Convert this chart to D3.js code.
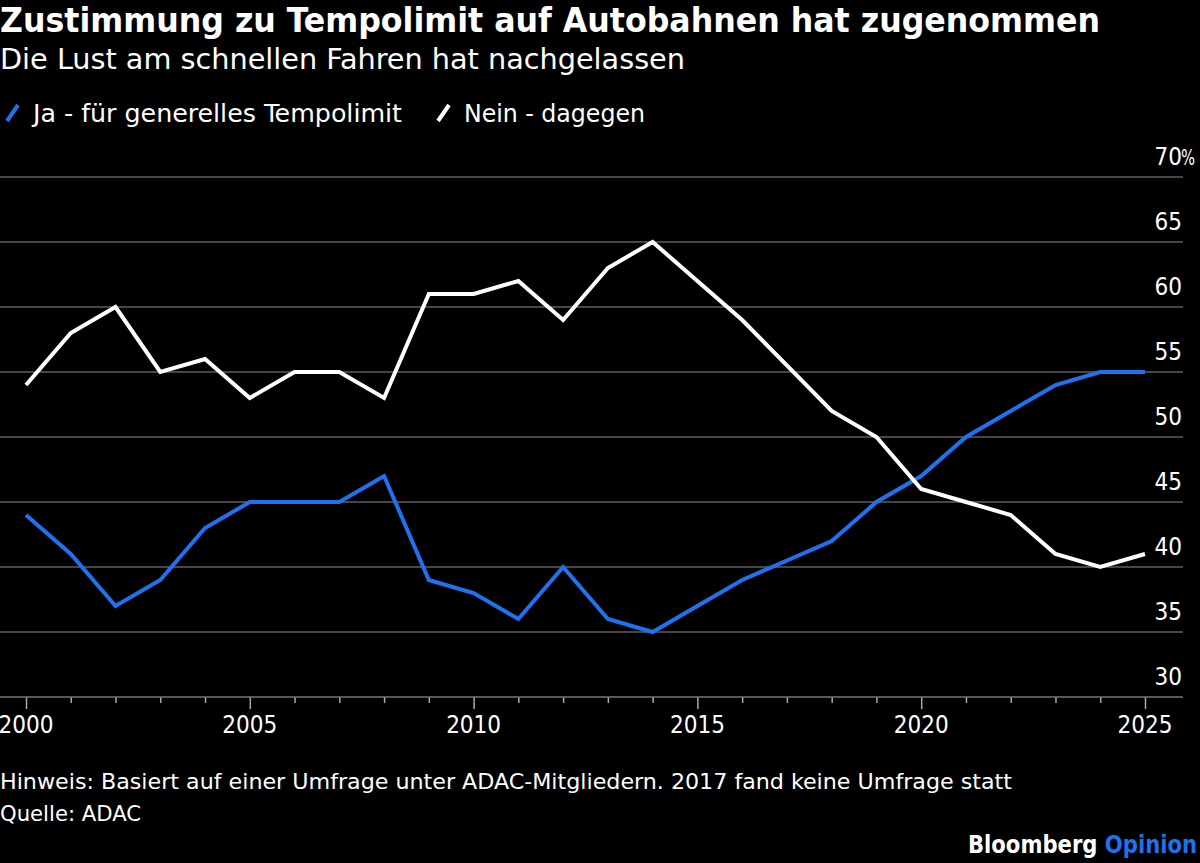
<!DOCTYPE html>
<html>
<head>
<meta charset="utf-8">
<script src="https://cdn.jsdelivr.net/npm/d3@7"></script>
<style>
  body { margin: 0; background: #000; }
  svg { display: block; }
</style>
</head>
<body>
<svg id="chart" width="1200" height="863"></svg>
<script>
// --- data (ADAC survey, % of respondents; no survey in 2017) ---
const years = [2000, 2001, 2002, 2003, 2004, 2005, 2006, 2007, 2008, 2009, 2010, 2011, 2012,
  2013, 2014, 2015, 2016, 2018, 2019, 2020, 2021, 2022, 2023, 2024, 2025]
const ja = [44, 41, 37, 39, 43, 45, 45, 45, 47, 39, 38, 36, 40,
  36, 35, 37, 39, 42, 45, 47, 50, 52, 54, 55, 55]
const nein = [54, 58, 60, 55, 56, 53, 55, 55, 53, 61, 61, 62, 59,
  63, 65, 62, 59, 52, 50, 46, 45, 44, 41, 40, 41]
const yTicks = [30, 35, 40, 45, 50, 55, 60, 65, 70]
const xLabels = [2000, 2005, 2010, 2015, 2020, 2025]

const series = [
  {name: 'Ja - für generelles Tempolimit', values: ja, color: '#1f72ef'},
  {name: 'Nein - dagegen', values: nein, color: '#ffffff'}
]

const FONT = "'DejaVu Sans Condensed', 'DejaVu Sans', sans-serif"
const svg = d3.select('#chart')

const x = d3.scaleLinear().domain([2000, 2025]).range([26, 1145])
const y = d3.scaleLinear().domain([30, 70]).range([697, 177])

// squeeze / stretch a text to the width it has in the original
function fit (sel, w) {
  sel.attr('textLength', w).attr('lengthAdjust', 'spacingAndGlyphs')
  return sel
}

// + -- titles ------------------------------------------------------------- +
svg.append('text')
  .attr('x', 0).attr('y', 32)
  .attr('font-family', FONT).attr('font-weight', 700).attr('font-size', 33)
  .attr('fill', '#fff')
  .text('Zustimmung zu Tempolimit auf Autobahnen hat zugenommen')
  .call(fit, 1100)

svg.append('text')
  .attr('x', 0).attr('y', 69)
  .attr('font-family', FONT).attr('font-weight', 300).attr('font-size', 29)
  .attr('fill', '#fff')
  .text('Die Lust am schnellen Fahren hat nachgelassen')
  .call(fit, 685)

// + -- legend ------------------------------------------------------------- +
const legendX = [6, 437]
const legendW = [369, 181]
series.forEach((s, i) => {
  let g = svg.append('g').attr('transform', 'translate(' + legendX[i] + ',0)')
  g.append('line')
    .attr('x1', 1).attr('y1', 121).attr('x2', 12).attr('y2', 105)
    .attr('stroke', s.color).attr('stroke-width', 4)
  g.append('text')
    .attr('x', 27).attr('y', 122)
    .attr('font-family', FONT).attr('font-size', 25)
    .attr('fill', '#fff')
    .text(s.name)
    .call(fit, legendW[i])
})

// + -- grid + y axis --------------------------------------------------------- +
svg.append('g')
  .selectAll('line')
  .data(yTicks.slice(1))
  .join('line')
  .attr('x1', 0).attr('x2', 1183)
  .attr('y1', (d) => y(d)).attr('y2', (d) => y(d))
  .attr('stroke', '#5e5e5e').attr('stroke-width', 1.5)

svg.append('g')
  .selectAll('text')
  .data(yTicks)
  .join('text')
  .attr('x', 1182)
  .attr('y', (d) => y(d) - 12)
  .attr('font-family', FONT).attr('font-size', 24)
  .attr('fill', '#fff')
  .attr('text-anchor', 'end')
  .text((d) => d)

// percent sign hangs past the label column
svg.append('text')
  .attr('x', 1181).attr('y', y(70) - 12)
  .attr('font-family', FONT).attr('font-size', 21)
  .attr('fill', '#fff')
  .text('%')
  .call(fit, 14)

// + -- x axis --------------------------------------------------------------- +
const xAxis = d3.axisBottom(x)
  .tickValues(d3.range(2000, 2026))
  .tickSize(6)
  .tickFormat('')
const gx = svg.append('g')
  .attr('transform', 'translate(0,' + y(30) + ')')
  .call(xAxis)
gx.select('.domain').remove()
gx.selectAll('.tick line')
  .attr('stroke', '#aaa').attr('stroke-width', 1.5)
  .attr('y2', (d) => xLabels.includes(d) ? 12 : 6)
gx.append('line')
  .attr('x1', 0).attr('x2', 1183)
  .attr('stroke', '#777').attr('stroke-width', 1.5)

svg.append('g')
  .selectAll('text')
  .data(xLabels)
  .join('text')
  .attr('x', (d) => x(d))
  .attr('y', 733)
  .attr('font-family', FONT).attr('font-size', 24)
  .attr('fill', '#fff')
  .attr('text-anchor', 'middle')
  .text((d) => d)

// + -- lines ---------------------------------------------------------------- +
const line = d3.line()
  .x((d) => x(d[0]))
  .y((d) => y(d[1]))

series.forEach((s) => {
  svg.append('path')
    .datum(years.map((yr, i) => [yr, s.values[i]]))
    .attr('d', line)
    .attr('fill', 'none')
    .attr('stroke', s.color)
    .attr('stroke-width', 4)
    .attr('stroke-linejoin', 'miter')
})

// + -- footer --------------------------------------------------------------- +
svg.append('text')
  .attr('x', 0).attr('y', 789)
  .attr('font-family', FONT).attr('font-size', 22)
  .attr('fill', '#fff')
  .text('Hinweis: Basiert auf einer Umfrage unter ADAC-Mitgliedern. 2017 fand keine Umfrage statt')
  .call(fit, 1012)

svg.append('text')
  .attr('x', 0).attr('y', 821)
  .attr('font-family', FONT).attr('font-size', 22)
  .attr('fill', '#fff')
  .text('Quelle: ADAC')
  .call(fit, 141)

const brand = svg.append('text')
  .attr('x', 968).attr('y', 853)
  .attr('font-family', FONT).attr('font-size', 24).attr('font-weight', 700)
  .attr('fill', '#fff')
  .call(fit, 229)
brand.append('tspan').text('Bloomberg ')
brand.append('tspan').attr('fill', '#1f72ef').text('Opinion')
</script>
</body>
</html>
